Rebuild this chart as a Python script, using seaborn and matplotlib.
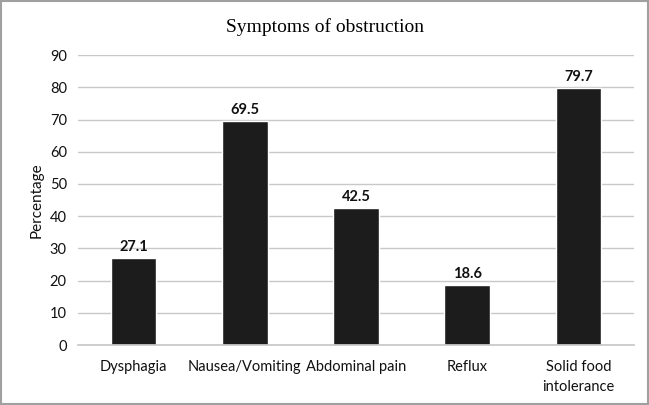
import matplotlib
matplotlib.use("Agg")
import matplotlib.pyplot as plt
import seaborn as sns
import pandas as pd
from matplotlib.patches import Rectangle

categories = ["Dysphagia", "Nausea/Vomiting", "Abdominal pain", "Reflux", "Solid food\nintolerance"]
values = [27.1, 69.5, 42.5, 18.6, 79.7]
yticks = [0, 10, 20, 30, 40, 50, 60, 70, 80, 90]

sns.set_theme(style="white")
plt.rcParams['font.family'] = ['Lato', 'DejaVu Sans']

df = pd.DataFrame({"cat": categories, "val": values})
fig = plt.figure(figsize=(6.49, 4.05), dpi=100)
ax = fig.add_axes([0.12, 0.148, 0.857, 0.716])
sns.barplot(data=df, x="cat", y="val", color="#1c1c1c", width=0.41, ax=ax, saturation=1)
ax.set_ylim(0, 90)
ax.set_yticks(yticks)
ax.yaxis.grid(True, color="#c8c8c8", linewidth=1)
ax.set_axisbelow(True)
for s in ["top", "right", "left"]:
    ax.spines[s].set_visible(False)
ax.spines["bottom"].set_color("#c8c8c8")
ax.tick_params(axis="both", length=0, labelsize=10.5, colors="#111111")
ax.tick_params(axis="x", pad=11)
ax.tick_params(axis="y", pad=8)
for lbl in ax.get_xticklabels():
    lbl.set_linespacing(1.5)
ax.set_xlabel("")
ax.set_ylabel("Percentage", fontsize=11, color="#111111", labelpad=4)
for i, v in enumerate(values):
    ax.annotate(f"{v}", (i, v), xytext=(0, 3), textcoords="offset points",
                ha="center", va="bottom", fontsize=10.5, fontweight="bold", color="#111111")
fig.text(0.5, 0.932, "Symptoms of obstruction", ha="center", va="center",
         fontsize=14, family="Liberation Serif", color="black")
fig.patches.append(Rectangle((0.002, 0.003), 0.996, 0.994, transform=fig.transFigure,
                             fill=False, edgecolor="#a0a0a0", linewidth=1.5))
fig.savefig("out.png", dpi=100)
